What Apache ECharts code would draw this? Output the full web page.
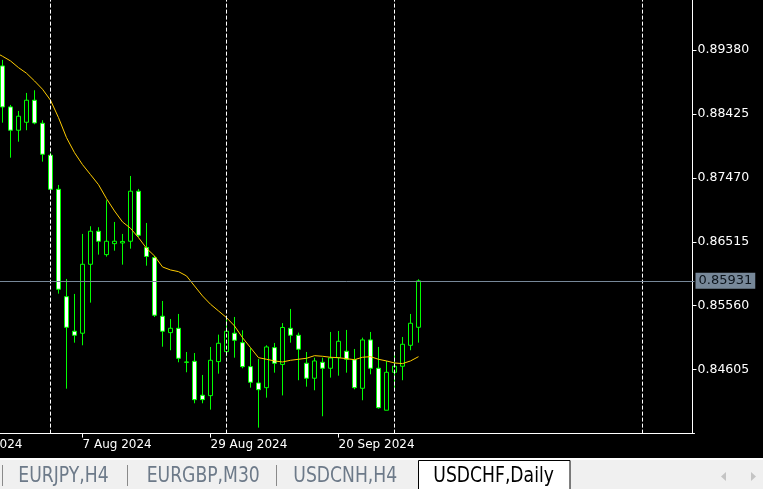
<!DOCTYPE html>
<html><head><meta charset="utf-8">
<script src="https://cdn.jsdelivr.net/npm/echarts@6/dist/echarts.min.js"></script>
<style>html,body{margin:0;padding:0;background:#000;overflow:hidden}#c{width:763px;height:489px;}</style>
</head><body><div id="c"></div>
<script>
// ---- data (USDCHF, Daily) ----
const firstCategoryDate = '2024-07-16';
const categoryCount = 93;
const firstBarDate = '2024-07-24';
const opens = [0.89141,0.88529,0.88181,0.88300,0.88629,0.88285,0.87807,0.87299,0.85695,0.85179,
0.85149,0.86179,0.86672,0.86323,0.86487,0.86497,0.86523,0.87270,0.86430,0.86278,
0.85403,0.85158,0.85223,0.84720,0.84730,0.84223,0.84217,0.84725,0.84874,0.85149,
0.85008,0.84650,0.84406,0.84336,0.84934,0.84683,0.85223,0.85119,0.84701,0.84477,
0.84715,0.84626,0.84784,0.84880,0.84754,0.84327,0.85049,0.84626,0.83999,0.84566,
0.84656,0.84969,0.85238];
const highs = [0.89231,0.88559,0.88469,0.88738,0.88778,0.88330,0.87846,0.87364,0.85960,0.85736,
0.86632,0.86747,0.86732,0.87135,0.86811,0.86632,0.87498,0.87304,0.86796,0.86308,
0.85631,0.85362,0.85437,0.84869,0.84854,0.84526,0.84944,0.85128,0.85407,0.85392,
0.85193,0.84925,0.84765,0.84969,0.85004,0.85300,0.85512,0.85158,0.84869,0.84784,
0.84784,0.85168,0.85183,0.85198,0.84914,0.85083,0.85168,0.84944,0.84735,0.84835,
0.85093,0.85437,0.85955];
const lows = [0.88294,0.87771,0.88010,0.88181,0.88270,0.87712,0.87264,0.85740,0.84321,0.85008,
0.84969,0.85606,0.86323,0.86293,0.86382,0.86173,0.86412,0.86587,0.86158,0.85392,
0.84948,0.84895,0.84715,0.84566,0.84103,0.84103,0.84008,0.84545,0.84805,0.84784,
0.84626,0.84336,0.83739,0.84187,0.84560,0.84220,0.85008,0.84447,0.84351,0.84297,
0.83909,0.84486,0.84515,0.84560,0.84312,0.84148,0.84536,0.84023,0.83999,0.84302,
0.84447,0.84895,0.85008];
const closes = [0.88529,0.88181,0.88390,0.88629,0.88290,0.87822,0.87299,0.85806,0.85238,0.85119,
0.86179,0.86672,0.86523,0.86523,0.86523,0.86520,0.87270,0.86612,0.86296,0.85418,
0.85179,0.85223,0.84775,0.84715,0.84157,0.84157,0.84745,0.84999,0.85179,0.85044,
0.84650,0.84417,0.84306,0.84944,0.84701,0.85235,0.85119,0.84910,0.84477,0.84735,
0.84626,0.84780,0.85029,0.84760,0.84336,0.85049,0.84626,0.84037,0.84566,0.84656,
0.84984,0.85298,0.85931];
const maFirstDate = '2024-07-23';
const maValues = [0.89350,0.89286,0.89216,0.89116,0.89032,0.88917,0.88793,0.88629,0.88369,0.88070,
0.87846,0.87667,0.87518,0.87368,0.87159,0.86975,0.86811,0.86717,0.86577,0.86418,
0.86303,0.86139,0.86094,0.86069,0.86005,0.85855,0.85706,0.85582,0.85482,0.85382,
0.85258,0.85083,0.84934,0.84784,0.84760,0.84735,0.84720,0.84745,0.84760,0.84775,
0.84814,0.84805,0.84790,0.84784,0.84769,0.84754,0.84790,0.84799,0.84760,0.84735,
0.84705,0.84695,0.84735,0.84799];
const xTickLabelDates = ['2024-07-16','2024-08-07','2024-08-29','2024-09-20'];
const gridLineDates = ['2024-08-01','2024-09-02','2024-10-01','2024-11-13'];
const yTickMin = 0.83650, yTickMax = 0.90335, yTickStep = 0.00955;
const tabs = ['EURJPY,H4','EURGBP,M30','USDCNH,H4','USDCHF,Daily'];
const activeTab = 'USDCHF,Daily';

// ---- build ----
function tradingDays(start, n){
  const out=[]; const d=new Date(start+'T00:00:00Z');
  while(out.length<n){ const w=d.getUTCDay(); if(w!==0&&w!==6) out.push(d.toISOString().slice(0,10)); d.setUTCDate(d.getUTCDate()+1); }
  return out;
}
const dates = tradingDays(firstCategoryDate, categoryCount);
const MON = ['Jan','Feb','Mar','Apr','May','Jun','Jul','Aug','Sep','Oct','Nov','Dec'];
function fmtDate(s){ return (+s.slice(8,10))+' '+MON[+s.slice(5,7)-1]+' '+s.slice(0,4); }
const barStart = dates.indexOf(firstBarDate);
const maStart = dates.indexOf(maFirstDate);
const candleData = dates.map((d,i)=>{
  const k=i-barStart;
  return (k>=0 && k<opens.length) ? [opens[k],closes[k],lows[k],highs[k]] : '-';
});
const maData = dates.map((d,i)=>{ const k=i-maStart; return (k>=0&&k<maValues.length)?maValues[k]:'-'; });
const lastClose = closes[closes.length-1];
const showTick = (idx,val)=>xTickLabelDates.indexOf(val)>=0;

const FONT = 'DejaVu Sans';
const chart = echarts.init(document.getElementById('c'), null, {renderer:'canvas'});

const tabX = [18.3, 146.7, 293.3, 433.3];
const graphics = [
  {type:'rect', shape:{x:0,y:458,width:763,height:2}, style:{fill:'#ffffff'}, silent:true},
  {type:'rect', shape:{x:0,y:460,width:763,height:29}, style:{fill:'#f0f0f0'}, silent:true},
  {type:'line', shape:{x1:2.5,y1:465,x2:2.5,y2:486}, style:{stroke:'#8a8a8a',lineWidth:1}, silent:true},
  {type:'line', shape:{x1:127.5,y1:465,x2:127.5,y2:486}, style:{stroke:'#8a8a8a',lineWidth:1}, silent:true},
  {type:'line', shape:{x1:276.5,y1:465,x2:276.5,y2:486}, style:{stroke:'#8a8a8a',lineWidth:1}, silent:true},
  {type:'rect', shape:{x:418.5,y:460.5,width:151.5,height:40}, style:{fill:'#ffffff',stroke:'#000000',lineWidth:1}, silent:true},
  {type:'polygon', shape:{points:[[726,472],[726,481],[721,476.5]]}, style:{fill:'#c4c4c4'}, silent:true},
  {type:'polygon', shape:{points:[[751,472],[751,481],[756,476.5]]}, style:{fill:'#c4c4c4'}, silent:true}
];
tabs.forEach((t,i)=>{
  graphics.push({type:'text', x:tabX[i], y:476, scaleX:0.86, scaleY:1.06, silent:true,
    style:{text:t, font:'20px "DejaVu Sans"', fill: t===activeTab?'#000000':'#6d7a89',
      textAlign:'left', textVerticalAlign:'middle', align:'left', verticalAlign:'middle'}});
});

const priceLineStyle = {color:'#778899', type:'solid', width:1};
const option = {
  backgroundColor:'#000000',
  animation:false,
  grid:{left:-49.5, top:-14, width:744, height:447.6, containLabel:false, outerBoundsMode:'none'},
  xAxis:{
    type:'category', data:dates, boundaryGap:true,
    axisLine:{show:true, lineStyle:{color:'#ffffff', width:1}},
    axisTick:{show:true, alignWithLabel:true, interval:showTick, length:4, lineStyle:{color:'#ffffff'}},
    axisLabel:{interval:showTick, formatter:fmtDate, color:'#ffffff', fontFamily:FONT, fontSize:12, align:'left', margin:5},
    splitLine:{show:false}
  },
  yAxis:{
    type:'value', position:'right', offset:-2, min:yTickMin, max:yTickMax, interval:yTickStep,
    axisLine:{show:true, lineStyle:{color:'#ffffff', width:1}},
    axisTick:{show:true, length:4, lineStyle:{color:'#ffffff'}},
    axisLabel:{color:'#ffffff', fontFamily:FONT, fontSize:12.5, margin:5, showMinLabel:false, showMaxLabel:false,
      formatter:v=>v.toFixed(5)},
    splitLine:{show:false}
  },
  series:[
    {type:'line', data:[], z:1, silent:true,
     markLine:{silent:true, animation:false, symbol:['none','none'], label:{show:false},
       lineStyle:{color:'#ffffff', type:[4,2], width:1},
       data:gridLineDates.map(d=>({xAxis:d}))}},
    {type:'candlestick', data:candleData, barWidth:4, z:3, silent:true,
     itemStyle:{color:'#000000', color0:'#ffffff', borderColor:'#00ff00', borderColor0:'#00ff00', borderWidth:1}},
    {type:'line', data:maData, z:4, symbol:'none', silent:true, connectNulls:false,
     lineStyle:{color:'#ffcc00', width:1}},
    {type:'line', data:[], z:5, silent:true,
     markLine:{silent:true, animation:false, symbol:['none','none'], precision:5,
       lineStyle:priceLineStyle,
       label:{show:true, position:'end', distance:1, formatter:()=>lastClose.toFixed(5),
           backgroundColor:'#778899', color:'#0c141c', fontFamily:FONT, fontSize:13, padding:[2,3,1,3]},
       data:[{yAxis:lastClose, lineStyle:priceLineStyle}]}}
  ],
  graphic:graphics
};
chart.setOption(option);
</script>
</body></html>
